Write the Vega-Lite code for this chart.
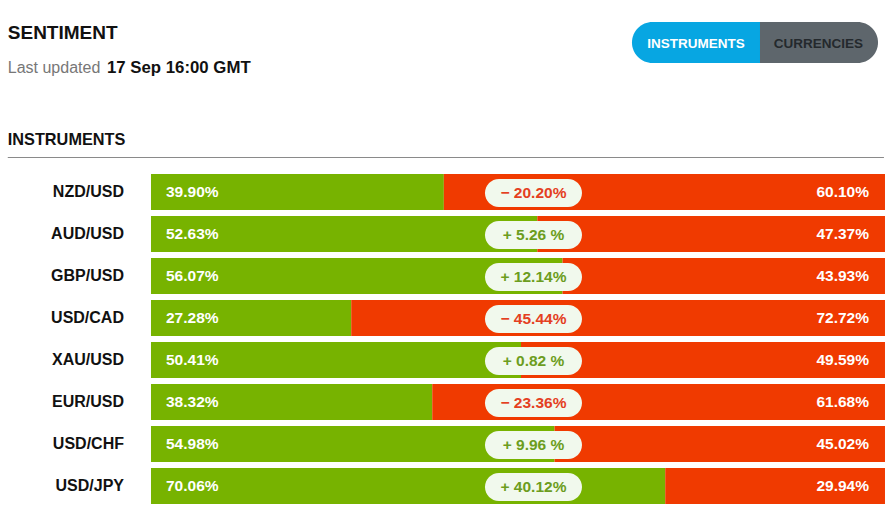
{
  "$schema": "https://vega.github.io/schema/vega-lite/v6.json",
  "padding": 0,
  "autosize": {"type": "pad"},
  "background": "#ffffff",
  "spacing": 0,
  "config": {
    "view": {"stroke": null},
    "axis": {"disable": true},
    "font": "Liberation Sans",
    "text": {"font": "Liberation Sans"}
  },
  "datasets": {
    "sentiment": [
      {"pair": "NZD/USD", "long": 39.90, "short": 60.10, "change": -20.20},
      {"pair": "AUD/USD", "long": 52.63, "short": 47.37, "change": 5.26},
      {"pair": "GBP/USD", "long": 56.07, "short": 43.93, "change": 12.14},
      {"pair": "USD/CAD", "long": 27.28, "short": 72.72, "change": -45.44},
      {"pair": "XAU/USD", "long": 50.41, "short": 49.59, "change": 0.82},
      {"pair": "EUR/USD", "long": 38.32, "short": 61.68, "change": -23.36},
      {"pair": "USD/CHF", "long": 54.98, "short": 45.02, "change": 9.96},
      {"pair": "USD/JPY", "long": 70.06, "short": 29.94, "change": 40.12}
    ]
  },
  "vconcat": [
    {
      "width": 888,
      "height": 171,
      "data": {"values": [{}]},
      "layer": [
        {
          "mark": {"type": "text", "text": "SENTIMENT", "fontSize": 19, "fontWeight": "bold", "color": "#111111", "align": "left", "baseline": "alphabetic"},
          "encoding": {
            "x": {"datum": -19.51, "type": "quantitative", "scale": {"domain": [-20.57, 100.41], "nice": false, "zero": false}},
            "y": {"datum": 39, "type": "quantitative", "scale": {"domain": [0, 171], "reverse": true, "nice": false, "zero": false}}
          }
        },
        {
          "mark": {"type": "text", "text": "Last updated", "fontSize": 16, "color": "#777777", "align": "left", "baseline": "alphabetic"},
          "encoding": {
            "x": {"datum": -19.51, "type": "quantitative"},
            "y": {"datum": 73, "type": "quantitative"}
          }
        },
        {
          "mark": {"type": "text", "text": "17 Sep 16:00 GMT", "fontSize": 16.8, "fontWeight": "bold", "color": "#111111", "align": "left", "baseline": "alphabetic"},
          "encoding": {
            "x": {"datum": -5.99, "type": "quantitative"},
            "y": {"datum": 73, "type": "quantitative"}
          }
        },
        {
          "mark": {"type": "rect", "color": "#07a6e2", "cornerRadiusTopLeft": 20.5, "cornerRadiusBottomLeft": 20.5},
          "encoding": {
            "x": {"datum": 65.53, "type": "quantitative"},
            "x2": {"datum": 82.97},
            "y": {"datum": 22, "type": "quantitative"},
            "y2": {"datum": 63}
          }
        },
        {
          "mark": {"type": "rect", "color": "#5e666c", "cornerRadiusTopRight": 20.5, "cornerRadiusBottomRight": 20.5},
          "encoding": {
            "x": {"datum": 82.97, "type": "quantitative"},
            "x2": {"datum": 99.05},
            "y": {"datum": 22, "type": "quantitative"},
            "y2": {"datum": 63}
          }
        },
        {
          "mark": {"type": "text", "text": "INSTRUMENTS", "fontSize": 13.5, "fontWeight": "bold", "color": "#ffffff", "align": "center", "baseline": "alphabetic"},
          "encoding": {
            "x": {"datum": 74.25, "type": "quantitative"},
            "y": {"datum": 48, "type": "quantitative"}
          }
        },
        {
          "mark": {"type": "text", "text": "CURRENCIES", "fontSize": 13.5, "fontWeight": "bold", "color": "#24292d", "align": "center", "baseline": "alphabetic"},
          "encoding": {
            "x": {"datum": 90.93, "type": "quantitative"},
            "y": {"datum": 48, "type": "quantitative"}
          }
        },
        {
          "mark": {"type": "text", "text": "INSTRUMENTS", "fontSize": 16.3, "fontWeight": "bold", "color": "#111111", "align": "left", "baseline": "alphabetic"},
          "encoding": {
            "x": {"datum": -19.51, "type": "quantitative"},
            "y": {"datum": 145, "type": "quantitative"}
          }
        },
        {
          "mark": {"type": "rule", "color": "#8a8a8a", "strokeWidth": 1},
          "encoding": {
            "x": {"datum": -19.51, "type": "quantitative"},
            "x2": {"datum": 99.86},
            "y": {"datum": 157.5, "type": "quantitative"}
          }
        }
      ]
    },
    {
      "width": 888,
      "height": 336,
      "data": {"name": "sentiment"},
      "transform": [
        {"calculate": "format(datum.long, '.2f') + '%'", "as": "longLabel"},
        {"calculate": "format(datum.short, '.2f') + '%'", "as": "shortLabel"},
        {"calculate": "(datum.change < 0 ? '\u2212 ' : '+ ') + format(abs(datum.change), '.2f') + (abs(datum.change) < 10 ? ' %' : '%')", "as": "changeLabel"}
      ],
      "encoding": {
        "y": {
          "field": "pair",
          "type": "nominal",
          "sort": null,
          "scale": {"paddingInner": 0.142857, "paddingOuter": 0.0714285}
        }
      },
      "layer": [
        {
          "mark": {"type": "bar", "color": "#77b300"},
          "encoding": {
            "x": {"field": "long", "type": "quantitative", "scale": {"domain": [-20.57, 100.41], "nice": false, "zero": false}},
            "x2": {"datum": 0}
          }
        },
        {
          "mark": {"type": "bar", "color": "#f03a00"},
          "encoding": {
            "x": {"field": "long", "type": "quantitative"},
            "x2": {"datum": 100}
          }
        },
        {
          "mark": {"type": "bar", "color": "#f1f9ed", "height": 28, "yOffset": 1, "cornerRadius": 14},
          "encoding": {
            "x": {"datum": 45.5, "type": "quantitative"},
            "x2": {"datum": 58.72}
          }
        },
        {
          "mark": {"type": "text", "fontSize": 15.5, "fontWeight": "bold", "align": "center", "baseline": "middle", "dy": 1},
          "encoding": {
            "x": {"datum": 52.11, "type": "quantitative"},
            "text": {"field": "changeLabel"},
            "color": {"condition": {"test": "datum.change < 0", "value": "#e4401f"}, "value": "#6c9d20"}
          }
        },
        {
          "mark": {"type": "text", "fontSize": 15.5, "fontWeight": "bold", "align": "left", "baseline": "middle", "dx": 15, "color": "#ffffff"},
          "encoding": {
            "x": {"datum": 0, "type": "quantitative"},
            "text": {"field": "longLabel"}
          }
        },
        {
          "mark": {"type": "text", "fontSize": 15.5, "fontWeight": "bold", "align": "right", "baseline": "middle", "dx": -16, "color": "#ffffff"},
          "encoding": {
            "x": {"datum": 100, "type": "quantitative"},
            "text": {"field": "shortLabel"}
          }
        },
        {
          "mark": {"type": "text", "fontSize": 16, "fontWeight": "bold", "align": "right", "baseline": "middle", "color": "#111111"},
          "encoding": {
            "x": {"datum": -3.68, "type": "quantitative"},
            "text": {"field": "pair"}
          }
        }
      ]
    }
  ]
}
